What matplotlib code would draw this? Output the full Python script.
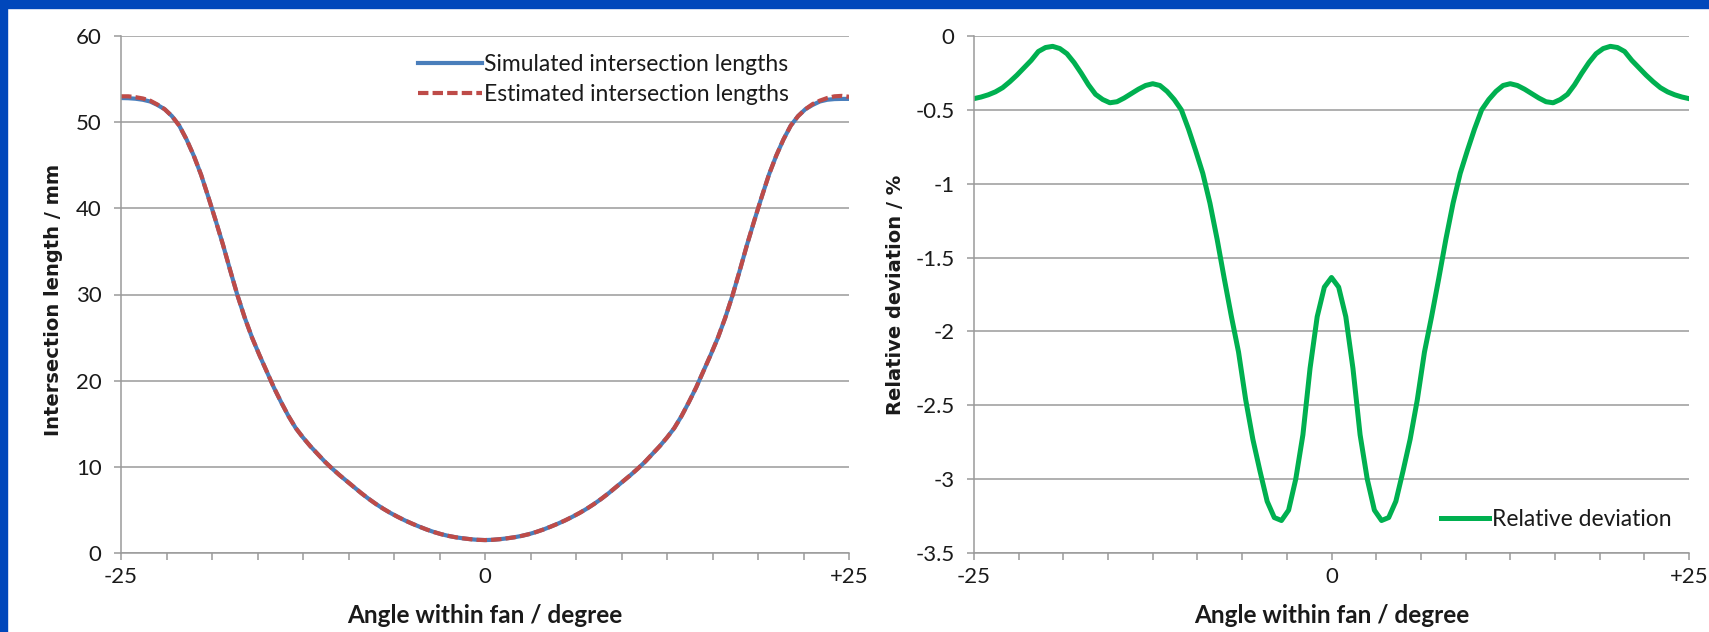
import matplotlib
matplotlib.use("Agg")
import matplotlib.pyplot as plt
from matplotlib.patches import Rectangle
import numpy as np

# ---- data (0.5 degree steps, -25 .. +25) ----
angle = [a / 2 for a in range(-50, 51)]

simulated_len = [
    52.8, 52.78, 52.72, 52.6, 52.4, 52.0, 51.5, 50.7, 49.6, 48.0,
    46.1, 43.9, 41.3, 38.6, 35.8, 32.8, 29.9, 27.3, 25.0, 23.0,
    21.1, 19.2, 17.5, 15.9, 14.5, 13.4, 12.4, 11.5, 10.6, 9.8,
    9.05, 8.35, 7.65, 6.95, 6.3, 5.7, 5.15, 4.65, 4.2, 3.78,
    3.4, 3.05, 2.72, 2.43, 2.18, 1.98, 1.82, 1.7, 1.6, 1.53,
    1.5,
    1.53, 1.6, 1.7, 1.82, 1.98, 2.18, 2.43, 2.72, 3.05, 3.4,
    3.78, 4.2, 4.65, 5.15, 5.7, 6.3, 6.95, 7.65, 8.35, 9.05,
    9.8, 10.6, 11.5, 12.4, 13.4, 14.5, 15.9, 17.5, 19.2, 21.1,
    23.0, 25.0, 27.3, 29.9, 32.8, 35.8, 38.6, 41.3, 43.9, 46.1,
    48.0, 49.6, 50.7, 51.5, 52.0, 52.4, 52.6, 52.68, 52.7, 52.7,
]
estimated_len = [
    53.0, 53.0, 52.9, 52.75, 52.5, 52.05, 51.5, 50.7, 49.6, 48.0,
    46.1, 43.9, 41.3, 38.6, 35.8, 32.8, 29.9, 27.3, 25.0, 23.0,
    21.1, 19.2, 17.5, 15.9, 14.5, 13.4, 12.4, 11.5, 10.6, 9.8,
    9.05, 8.35, 7.65, 6.95, 6.3, 5.7, 5.15, 4.65, 4.2, 3.78,
    3.4, 3.05, 2.72, 2.43, 2.18, 1.98, 1.82, 1.7, 1.6, 1.53,
    1.5,
    1.53, 1.6, 1.7, 1.82, 1.98, 2.18, 2.43, 2.72, 3.05, 3.4,
    3.78, 4.2, 4.65, 5.15, 5.7, 6.3, 6.95, 7.65, 8.35, 9.05,
    9.8, 10.6, 11.5, 12.4, 13.4, 14.5, 15.9, 17.5, 19.2, 21.1,
    23.0, 25.0, 27.3, 29.9, 32.8, 35.8, 38.6, 41.3, 43.9, 46.1,
    48.0, 49.6, 50.7, 51.5, 52.1, 52.5, 52.8, 53.0, 53.05, 52.95,
]

rel_deviation = [
    -0.424, -0.413, -0.398, -0.378, -0.350, -0.310, -0.265, -0.215, -0.165, -0.105,
    -0.078, -0.070, -0.085, -0.120, -0.180, -0.252, -0.330, -0.395, -0.430, -0.452,
    -0.445, -0.420, -0.390, -0.360, -0.335, -0.323, -0.335, -0.375, -0.430, -0.500,
    -0.630, -0.776, -0.930, -1.132, -1.375, -1.642, -1.899, -2.140, -2.463, -2.730,
    -2.946, -3.150, -3.260, -3.280, -3.210, -3.000, -2.700, -2.250, -1.900, -1.700,
    -1.635,
    -1.700, -1.900, -2.250, -2.700, -3.000, -3.210, -3.280, -3.260, -3.150, -2.946,
    -2.730, -2.463, -2.140, -1.899, -1.642, -1.375, -1.132, -0.930, -0.776, -0.630,
    -0.500, -0.430, -0.375, -0.335, -0.323, -0.335, -0.360, -0.390, -0.420, -0.445,
    -0.452, -0.430, -0.395, -0.330, -0.252, -0.180, -0.120, -0.085, -0.070, -0.078,
    -0.105, -0.165, -0.215, -0.265, -0.310, -0.350, -0.378, -0.398, -0.413, -0.424,
]

x_ticks = np.linspace(-25, 25, 17)
x_ticklabels = ['-25'] + [''] * 7 + ['0'] + [''] * 7 + ['+25']
left_yticks = [0, 10, 20, 30, 40, 50, 60]
right_yticks = [0, -0.5, -1, -1.5, -2, -2.5, -3, -3.5]
right_yticklabels = ['0', '-0.5', '-1', '-1.5', '-2', '-2.5', '-3', '-3.5']

plt.rcParams['lines.scale_dashes'] = False
plt.rcParams['font.family'] = ['Lato', 'DejaVu Sans']

GRID = '#9a9a9a'
TXT = '#1a1a1a'

fig = plt.figure(figsize=(17.09, 6.32), dpi=100)
fig.patch.set_facecolor('white')

# blue frame on top and left edges
fig.patches.append(Rectangle((0, 1 - 8 / 632), 1, 8 / 632, transform=fig.transFigure,
                             color='#0047BB', zorder=0))
fig.patches.append(Rectangle((0, 0), 7 / 1709, 1, transform=fig.transFigure,
                             color='#0047BB', zorder=0))

ax1 = fig.add_axes([121 / 1709, 79 / 632, 728 / 1709, 517 / 632])
ax2 = fig.add_axes([974 / 1709, 79 / 632, 715 / 1709, 517 / 632])


def style_axes(ax):
    for side in ['top', 'right']:
        ax.spines[side].set_visible(False)
    for side in ['left', 'bottom']:
        ax.spines[side].set_color(GRID)
        ax.spines[side].set_linewidth(1.1)
    ax.grid(axis='y', color=GRID, linewidth=1.1)
    ax.set_axisbelow(True)
    ax.set_xlim(-25, 25)
    ax.set_xticks(x_ticks)
    ax.set_xticklabels(x_ticklabels)
    ax.tick_params(axis='x', direction='out', length=5, width=1.1, color=GRID,
                   labelsize=16, labelcolor=TXT, pad=5)
    ax.tick_params(axis='y', direction='out', length=5, width=1.1, color=GRID,
                   labelsize=16, labelcolor=TXT, pad=9)
    ax.set_xlabel('Angle within fan / degree', fontsize=17.5, fontweight='bold',
                  color=TXT, family=['Lato', 'DejaVu Sans'])
    ax.xaxis.set_label_coords(0.5, -0.098)


# left panel
style_axes(ax1)
ax1.plot(angle, simulated_len, color='#4A7EBB', linewidth=3,
         label='Simulated intersection lengths', solid_joinstyle='round')
ax1.plot(angle, estimated_len, color='#BE4B48', linewidth=3,
         linestyle=(0, (7.5, 3)), label='Estimated intersection lengths')
ax1.set_ylim(0, 60)
ax1.set_yticks(left_yticks)
ax1.set_ylabel('Intersection length / mm', fontsize=14, fontweight='bold',
               color=TXT, family=['DejaVu Sans'])
ax1.yaxis.set_label_coords(-0.08, 0.49)
ax1.legend(loc='upper right', bbox_to_anchor=(0.918, 0.965), frameon=False,
           borderpad=0, borderaxespad=0,
           fontsize=16.5, handlelength=2.8, handletextpad=0.1, labelspacing=0.4,
           labelcolor=TXT)

# right panel
style_axes(ax2)
ax2.plot(angle, rel_deviation, color='#00B050', linewidth=3.6,
         label='Relative deviation', solid_joinstyle='round')
ax2.set_ylim(-3.5, 0)
ax2.set_yticks(right_yticks)
ax2.set_yticklabels(right_yticklabels)
ax2.set_ylabel('Relative deviation / %', fontsize=14, fontweight='bold',
               color=TXT, family=['DejaVu Sans'])
ax2.yaxis.set_label_coords(-0.097, 0.5)
ax2.legend(loc='lower right', bbox_to_anchor=(0.975, 0.044), frameon=False,
           borderpad=0, borderaxespad=0,
           fontsize=16.5, handlelength=2.1, handletextpad=0.1, labelcolor=TXT)

fig.savefig('out.png', dpi=100, facecolor='white')
